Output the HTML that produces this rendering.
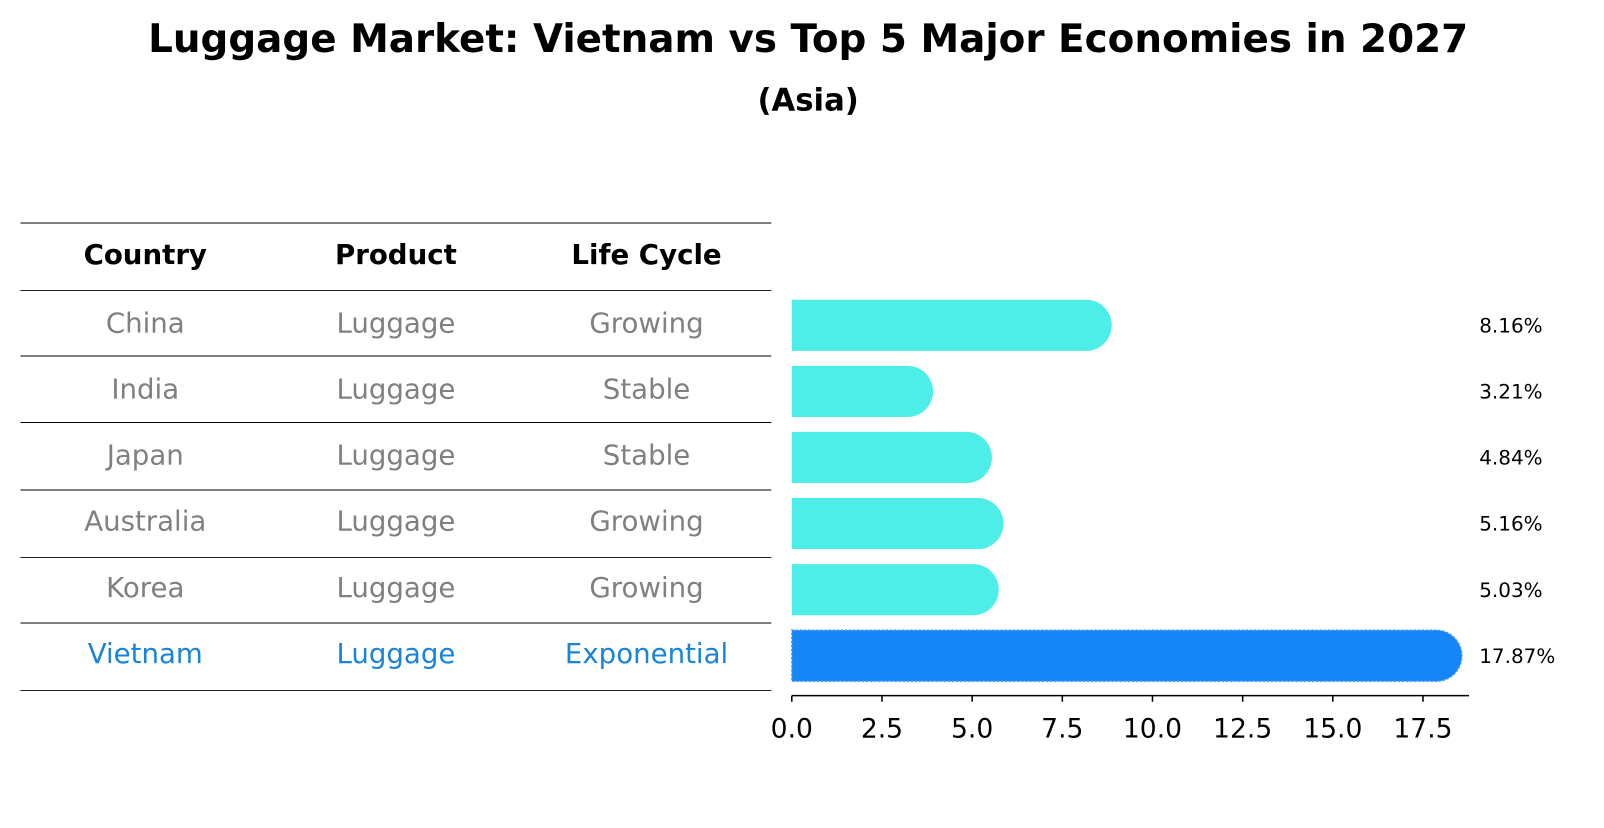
<!DOCTYPE html>
<html><head><meta charset="utf-8"><style>
body{margin:0;background:#fff;font-family:"Liberation Sans","DejaVu Sans",sans-serif;}
</style></head><body>
<svg id="c" width="1604" height="823" xmlns="http://www.w3.org/2000/svg" style="font-family:'DejaVu Sans','Liberation Sans',sans-serif">
<g transform="scale(1.023)">
<text x="790" y="51" text-anchor="middle" font-size="38" font-weight="bold">Luggage Market: Vietnam vs Top 5 Major Economies in 2027</text>
<text x="790" y="108" text-anchor="middle" font-size="30" font-weight="bold">(Asia)</text>
<g id="tbl"></g>
<g id="bars"></g>
</g>
</svg>
<script>
const countries=["China","India","Japan","Australia","Korea","Vietnam"];
const products=["Luggage","Luggage","Luggage","Luggage","Luggage","Luggage"];
const lifeCycles=["Growing","Stable","Stable","Growing","Growing","Exponential"];
const values=[8.16,3.21,4.84,5.16,5.03,17.87];
const labels=["8.16%","3.21%","4.84%","5.16%","5.03%","17.87%"];
const ticks=[0,2.5,5,7.5,10,12.5,15,17.5];
const tickLabels=["0.0","2.5","5.0","7.5","10.0","12.5","15.0","17.5"];
const NS="http://www.w3.org/2000/svg";
function mk(t,a,p){const e=document.createElementNS(NS,t);for(const k in a)e.setAttribute(k,a[k]);p.appendChild(e);return e;}
const x=v=>774+v*(617/17.5);
const rowY=i=>316+i*64.6;
const tbl=document.getElementById('tbl'),bars=document.getElementById('bars');
const lines=[218,284,348,413,479,545,609,675];
lines.forEach((y,i)=>{const l=mk('line',{x1:20,x2:754,y1:y,y2:y,stroke:'#000','stroke-width':0.9},tbl);

});
const cx=[142,387,632];
["Country","Product","Life Cycle"].forEach((h,j)=>{const t=mk('text',{x:cx[j],y:258,'text-anchor':'middle','font-size':27,'font-weight':'bold'},tbl);t.textContent=h;

});
countries.forEach((c,i)=>{const col=i===5?'#1a84d8':'#808080';
[c,products[i],lifeCycles[i]].forEach((s,j)=>{const t=mk('text',{x:cx[j],y:rowY(i)+9,'text-anchor':'middle','font-size':27,fill:col},tbl);t.textContent=s;

});});
const h=50,r=25;
values.forEach((v,i)=>{const y=rowY(i)+2;const col=i===5?'#1685f5':'#4deee8';
const w=x(v)-x(0)+r;
const p=mk('path',{d:`M${x(0)},${y-h/2} H${x(0)+w-r} A${r},${r} 0 0 1 ${x(0)+w-r},${y+h/2} H${x(0)} Z`,fill:col},bars);
if(i===5){p.setAttribute('stroke','#4a9cf0');p.setAttribute('stroke-dasharray','2 2');p.setAttribute('stroke-width','1.5');}


const t=mk('text',{x:1446,y:y+7,'font-size':19.5},bars);t.textContent=labels[i];

});
const ax=mk('line',{x1:774,x2:1436,y1:680,y2:680,stroke:'#000','stroke-width':1.5},bars);


ticks.forEach((v,i)=>{const tk=mk('line',{x1:x(v),x2:x(v),y1:680,y2:686,stroke:'#000','stroke-width':1.5},bars);


const t=mk('text',{x:x(v),y:721,'text-anchor':'middle','font-size':26},bars);t.textContent=tickLabels[i];

});
</script>
</body></html>
